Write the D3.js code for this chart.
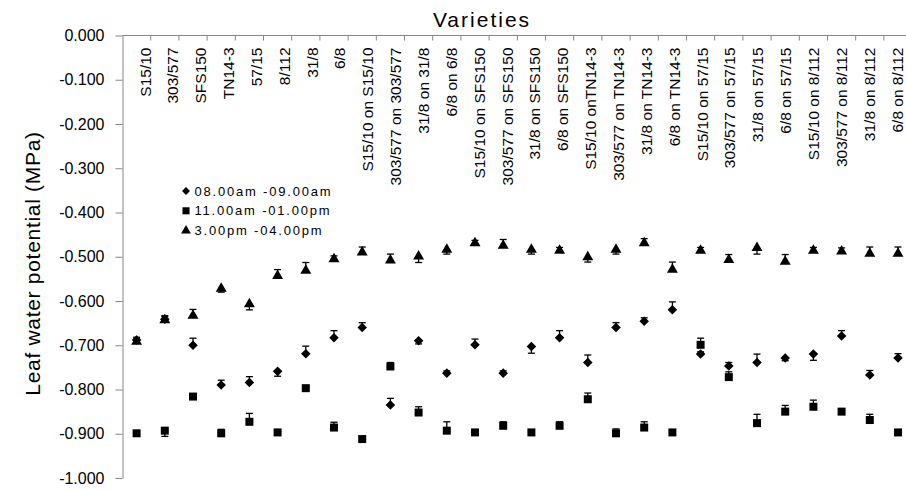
<!DOCTYPE html>
<html lang="en">
<head>
<meta charset="utf-8" />
<title>Leaf water potential by variety</title>
<style>
  body { margin: 0; padding: 0; background: #fff; }
  svg { display: block; font-family: Arial, "Liberation Sans", sans-serif; }
  .axis path, .axis line { stroke: #868686; }
</style>
</head>
<body>
<div id="chart"></div>
<script src="https://d3js.org/d3.v7.min.js"></script>
<script>
const varieties = [
  'S15/10', '303/577', 'SFS150', 'TN14-3', '57/15', '8/112', '31/8', '6/8',
  'S15/10 on S15/10', '303/577 on 303/577', '31/8 on 31/8', '6/8 on 6/8',
  'S15/10 on SFS150', '303/577 on SFS150', '31/8 on SFS150', '6/8 on SFS150',
  'S15/10 onTN14-3', '303/577 on TN14-3', '31/8 on TN14-3', '6/8 on TN14-3',
  'S15/10 on 57/15', '303/577 on 57/15', '31/8 on 57/15', '6/8 on 57/15',
  'S15/10 on 8/112', '303/577 on 8/112', '31/8 on 8/112', '6/8 on 8/112'
];

const seriesNames = ['08.00am -09.00am', '11.00am -01.00pm', '3.00pm -04.00pm'];

// mean leaf water potential (MPa)
const morning = [-0.688, -0.641, -0.700, -0.790, -0.784, -0.759, -0.719, -0.683,
  -0.660, -0.835, -0.690, -0.763, -0.699, -0.763, -0.703, -0.683,
  -0.739, -0.660, -0.646, -0.620, -0.720, -0.747, -0.739, -0.729,
  -0.720, -0.679, -0.767, -0.729];
const midday = [-0.899, -0.893, -0.816, -0.899, -0.873, -0.897, -0.797, -0.886,
  -0.912, -0.748, -0.852, -0.893, -0.897, -0.882, -0.897, -0.882,
  -0.822, -0.899, -0.886, -0.897, -0.699, -0.772, -0.876, -0.850,
  -0.839, -0.850, -0.869, -0.897];
const afternoon = [-0.692, -0.643, -0.633, -0.572, -0.607, -0.543, -0.531, -0.505,
  -0.490, -0.508, -0.499, -0.484, -0.469, -0.475, -0.484, -0.486,
  -0.501, -0.484, -0.469, -0.529, -0.486, -0.507, -0.480, -0.511,
  -0.486, -0.488, -0.493, -0.493];

// one-sided error bars: positive goes up (towards 0), negative goes down
const morningErr = [0.006, 0.008, 0.016, 0.011, 0.013, -0.011, 0.017, 0.016,
  0.011, 0.015, -0.007, 0.005, 0.013, 0.005, -0.015, 0.016,
  0.017, 0.011, 0.008, 0.018, 0.005, 0.008, 0.019, -0.006,
  -0.014, 0.012, 0.010, 0.010];
const middayErr = [0.005, -0.013, 0.004, 0.009, 0.019, 0.004, 0.004, 0.012,
  0.006, 0.009, 0.013, 0.020, 0.004, 0.009, 0.004, 0.009,
  0.014, 0.010, 0.013, 0.004, 0.015, 0.012, 0.020, 0.014,
  0.015, 0.006, 0.013, 0.006];
const afternoonErr = [0.006, 0.008, 0.014, -0.008, -0.013, 0.014, 0.018, 0.007,
  0.012, 0.014, -0.014, -0.010, 0.006, 0.014, -0.010, 0.007,
  -0.011, -0.010, 0.010, 0.017, 0.007, 0.012, -0.014, 0.016,
  0.007, 0.008, 0.015, 0.015];

const yTicks = [0, -0.1, -0.2, -0.3, -0.4, -0.5, -0.6, -0.7, -0.8, -0.9, -1.0];

const width = 906, height = 490;
const plotLeft = 122.5, plotTop = 35.5, plotBottom = 478;

const svg = d3.select('#chart').append('svg')
    .attr('width', width)
    .attr('height', height);

const x = d3.scaleBand()
    .domain(varieties)
    .range([plotLeft, plotLeft + varieties.length * 28.2]);

// category labels sit on a slightly tighter grid than the points
const xLabel = d3.scalePoint()
    .domain(varieties)
    .range([145, 897]);

const y = d3.scaleLinear()
    .domain([-1, 0])
    .range([plotBottom, plotTop]);

const fmt = d3.formatLocale({ decimal: '.', thousands: ',', grouping: [3], currency: ['', ''], minus: '-' }).format('.3f');

// y axis
const yAxis = svg.append('g')
    .attr('class', 'axis')
    .attr('transform', `translate(${plotLeft},0)`)
    .call(d3.axisLeft(y).tickValues(yTicks).tickFormat(fmt).tickSize(7).tickSizeOuter(0).tickPadding(11));
yAxis.selectAll('text')
    .attr('fill', '#000')
    .style('font-size', '16px');

// x axis on top, ticks between categories
const xAxis = svg.append('g').attr('class', 'axis');
xAxis.append('line')
    .attr('x1', plotLeft).attr('x2', width)
    .attr('y1', plotTop).attr('y2', plotTop);
xAxis.selectAll('.tk')
    .data(varieties.slice(1))
    .enter().append('line')
    .attr('class', 'tk')
    .attr('x1', d => x(d)).attr('x2', d => x(d))
    .attr('y1', plotTop).attr('y2', plotTop + 5);

svg.append('g')
  .selectAll('text')
  .data(varieties)
  .enter().append('text')
    .attr('transform', d => `translate(${xLabel(d) + 5.5},${plotTop + 12}) rotate(-90)`)
    .attr('text-anchor', 'end')
    .style('font-size', '15.5px')
    .text(d => d);

svg.append('text')
    .attr('x', 482).attr('y', 27)
    .attr('text-anchor', 'middle')
    .style('font-size', '21px')
    .style('letter-spacing', '2px')
    .text('Varieties');

svg.append('text')
    .attr('transform', `translate(40,${(137 + 390) / 2}) rotate(-90)`)
    .attr('text-anchor', 'middle')
    .style('font-size', '21px')
    .style('letter-spacing', '0.7px')
    .text('Leaf water potential (MPa)');

// markers
const shapes = [
  d3.symbol().type(d3.symbolDiamond2).size(58),
  d3.symbol().type(d3.symbolSquare).size(64),
  d3.symbol().type(d3.symbolTriangle).size(52)
];

const series = [
  { name: seriesNames[0], values: morning, err: morningErr, shape: shapes[0] },
  { name: seriesNames[1], values: midday, err: middayErr, shape: shapes[1] },
  { name: seriesNames[2], values: afternoon, err: afternoonErr, shape: shapes[2] }
];

const cx = d => x(d) + x.bandwidth() / 2;

series.forEach(s => {
  const g = svg.append('g');
  const pts = varieties.map((v, i) => ({ v, val: s.values[i], e: s.err[i] }));

  const eb = g.selectAll('.eb').data(pts).enter().append('g')
      .attr('stroke', '#000').attr('stroke-width', 1.3);
  eb.append('line')
      .attr('x1', d => cx(d.v)).attr('x2', d => cx(d.v))
      .attr('y1', d => y(d.val)).attr('y2', d => y(d.val + d.e));
  eb.append('line')
      .attr('x1', d => cx(d.v) - 3.5).attr('x2', d => cx(d.v) + 3.5)
      .attr('y1', d => y(d.val + d.e)).attr('y2', d => y(d.val + d.e));

  g.selectAll('path').data(pts).enter().append('path')
      .attr('d', s.shape)
      .attr('transform', d => `translate(${cx(d.v)},${y(d.val)})`)
      .attr('fill', '#000');
});

// legend
const legend = svg.append('g').attr('transform', 'translate(186,191)');
series.forEach((s, i) => {
  const row = legend.append('g').attr('transform', `translate(0,${i * 19.8})`);
  row.append('path')
      .attr('d', d3.symbol().type([d3.symbolDiamond2, d3.symbolSquare, d3.symbolTriangle][i]).size([40, 50, 42][i]))
      .attr('fill', '#000');
  row.append('text')
      .attr('x', 8.5).attr('y', 4.5)
      .style('font-size', '13px')
      .style('letter-spacing', '1.8px')
      .text(s.name);
});
</script>
</body>
</html>
